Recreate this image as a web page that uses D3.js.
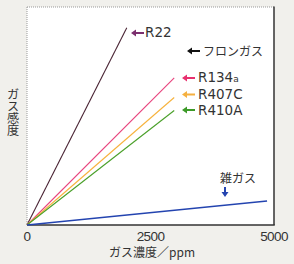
<!DOCTYPE html>
<html>
<head>
<meta charset="utf-8">
<script src="https://cdn.jsdelivr.net/npm/d3@7"></script>
<style>
  body { margin: 0; background: #f1f0ec; }
  svg { display: block; font-family: "Noto Sans CJK JP", "Noto Sans", sans-serif; }
</style>
</head>
<body>
<svg id="chart" width="294" height="264"></svg>
<script>
// gas concentration (ppm) at line end, sensitivity (arbitrary units 0-100)
var gases = ["R22", "R134a", "R407C", "R410A", "雑ガス"]
var endPpm = [2020, 2980, 2980, 2980, 4860]
var endSens = [90.5, 67.5, 58.5, 52.5, 11]
var colors = ["#4a2434", "#e8457e", "#f7b23c", "#4aa02a", "#2444b0"]
var arrowColors = ["#7b2f6e", "#e8306f", "#f5b040", "#3c9a28"]
var xTicks = [0, 2500, 5000]

var width = 294, height = 264
var margin = {top: 7, right: 20, bottom: 39, left: 27}

var svg = d3.select('#chart')

var x = d3.scaleLinear().domain([0, 5000]).range([margin.left, width - margin.right])
var y = d3.scaleLinear().domain([0, 100]).range([height - margin.bottom, margin.top])

// plot area
svg.append('rect')
  .attr('x', x(0)).attr('y', y(100))
  .attr('width', x(5000) - x(0)).attr('height', y(0) - y(100))
  .attr('fill', 'white')

// dotted top / left, solid right / bottom
svg.append('line').attr('x1', x(0)).attr('x2', x(5000)).attr('y1', y(100)).attr('y2', y(100))
  .attr('stroke', '#999').attr('stroke-dasharray', '1,1')
svg.append('line').attr('x1', x(0)).attr('x2', x(0)).attr('y1', y(100)).attr('y2', y(0))
  .attr('stroke', '#999').attr('stroke-dasharray', '1,1')
svg.append('line').attr('x1', x(5000)).attr('x2', x(5000)).attr('y1', y(100) - 0.5).attr('y2', y(0))
  .attr('stroke', '#333').attr('stroke-width', 1.5)
svg.append('line').attr('x1', x(0)).attr('x2', x(5000) + 0.75).attr('y1', y(0)).attr('y2', y(0))
  .attr('stroke', '#333').attr('stroke-width', 1.5)

// gas lines from the origin
var lineData = gases.map((g, i) => ({name: g, color: colors[i], pts: [[0, 0], [endPpm[i], endSens[i]]]}))
var line = d3.line().x(d => x(d[0])).y(d => y(d[1]))
svg.append('g').selectAll('path')
  .data(lineData)
  .join('path')
  .attr('d', d => line(d.pts))
  .attr('fill', 'none')
  .attr('stroke', d => d.color)
  .attr('stroke-width', (d, i) => i == 4 ? 1.3 : 1.1)

// x axis tick labels
svg.append('g').selectAll('text')
  .data(xTicks)
  .join('text')
  .attr('x', d => x(d))
  .attr('y', 240.5)
  .attr('text-anchor', 'middle')
  .attr('font-family', '"Liberation Sans", sans-serif')
  .attr('font-size', 13.5)
  .attr('letter-spacing', -0.6)
  .attr('fill', '#333')
  .text(d => d)

svg.append('text')
  .attr('x', 152).attr('y', 257)
  .attr('text-anchor', 'middle')
  .attr('font-size', 12)
  .attr('fill', '#333')
  .text('ガス濃度／ppm')

// vertical y label
svg.append('text')
  .attr('x', 13)
  .attr('y', 88)
  .style('writing-mode', 'vertical-rl')
  .attr('font-size', 12.2)
  .attr('fill', '#333')
  .text('ガス感度')

// arrow labels
function arrowLeft(g, cx, cy, color) {
  g.append('path')
    .attr('d', `M${cx},${cy} l5,-3.5 v2.5 h8 v2 h-8 v2.5 z`)
    .attr('fill', color)
}

var labels = [
  {i: 0, ax: 131, ay: 33, tx: 145, ty: 37, text: 'R22'},
  {i: 1, ax: 182, ay: 78, tx: 198, ty: 82, text: 'R134'},
  {i: 2, ax: 182, ay: 94.5, tx: 198, ty: 99, text: 'R407C'},
  {i: 3, ax: 182, ay: 110, tx: 198, ty: 115, text: 'R410A'}
]
var lab = svg.append('g')
labels.forEach(l => {
  arrowLeft(lab, l.ax, l.ay, arrowColors[l.i])
  var t = lab.append('text')
    .attr('x', l.tx).attr('y', l.ty)
    .attr('font-family', '"DejaVu Sans", sans-serif')
    .attr('font-size', 13.5)
    .attr('fill', '#333')
    .text(l.text)
  if (l.i == 1) t.append('tspan').attr('font-size', 9).text('a')
})

arrowLeft(lab, 187, 51, '#111')
lab.append('text').attr('x', 203).attr('y', 55.5)
  .attr('font-size', 12).attr('fill', '#333').text('フロンガス')

lab.append('text').attr('x', 238).attr('y', 183)
  .attr('text-anchor', 'middle')
  .attr('font-size', 12).attr('fill', '#333').text('雑ガス')
lab.append('path')
  .attr('d', 'M225,197 l-3.5,-5 h2.5 v-5 h2 v5 h2.5 z')
  .attr('fill', colors[4])
</script>
</body>
</html>
